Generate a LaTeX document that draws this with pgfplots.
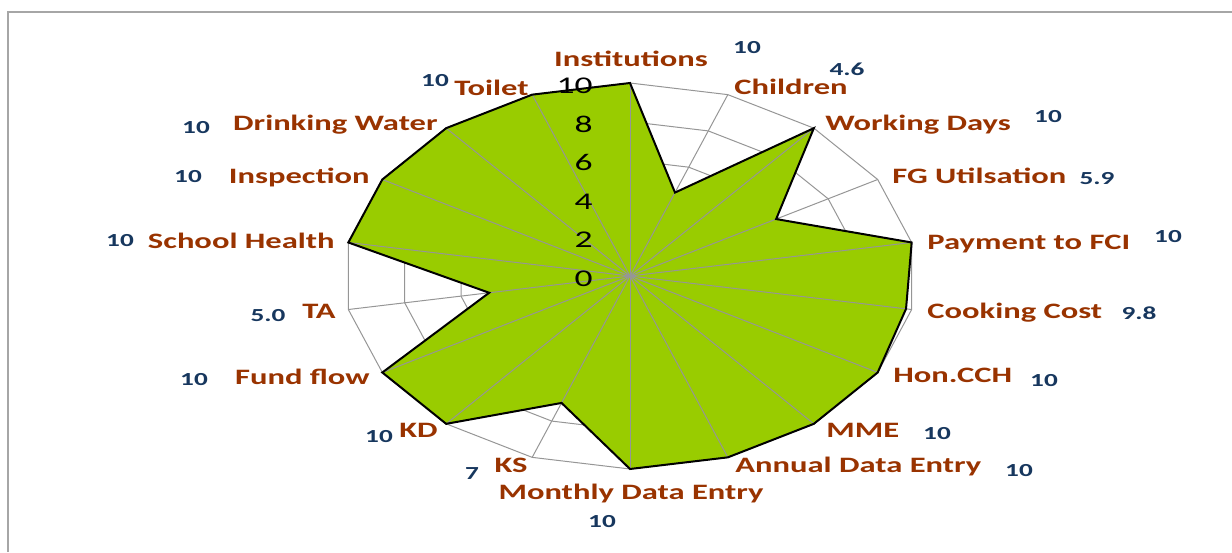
\documentclass[border=0pt]{standalone}
\usepackage{pgfplots}
\pgfplotsset{compat=1.18}
\usepackage{pgfplotstable}
\usepackage{fontspec}
\setmainfont{Carlito}
\newfontfamily\cw[FakeStretch=1.48]{Carlito}
\definecolor{catc}{HTML}{993300}
\definecolor{valc}{HTML}{17375E}
\definecolor{fillg}{HTML}{99CC00}
\definecolor{gridg}{HTML}{969696}
\definecolor{frameg}{HTML}{A6A6A6}

\pgfplotstableread{
angle value
90 10
70 4.6
50 10
30 5.9
10 10
-10 9.8
-30 10
-50 10
-70 10
-90 10
-110 7
-130 10
-150 10
-170 5.0
-190 10
-210 10
-230 10
-250 10
}\radar

\newcommand\cat[4]{\node[anchor=#3, text=catc, font=\cw\bfseries\fontsize{11}{13}\selectfont, inner sep=0pt] at (axis cs:{(#1-630)/28.6},{(276-#2)/19.3}) {#4};}
\newcommand\val[3]{\node[anchor=base, text=valc, font=\cw\bfseries\fontsize{9.2}{11}\selectfont, inner sep=0pt] at (axis cs:{(#1-630)/28.6},{(276-#2)/19.3}) {#3};}
\newcommand\tck[1]{\node[anchor=east, text=black, font=\cw\fontsize{12}{14}\selectfont, inner sep=0pt] at (axis cs:-1.29,{#1-0.13}) {#1};}

\begin{document}
\begin{tikzpicture}
\begin{axis}[name=ax, hide axis, scale only axis, width=616pt, height=276pt,
  xmin=-22.028, xmax=21.049, ymin=-14.301, ymax=14.301, clip=false]
% rings
\pgfplotsinvokeforeach{2,4,6,8,10}{
  \addplot[gridg, line width=0.5pt, data cs=polar, no markers, forget plot] coordinates {(90,#1) (70,#1) (50,#1) (30,#1) (10,#1) (-10,#1) (-30,#1) (-50,#1) (-70,#1) (-90,#1) (-110,#1) (-130,#1) (-150,#1) (-170,#1) (-190,#1) (-210,#1) (-230,#1) (-250,#1)} -- cycle;
}
% filled area
\addplot[fill=fillg, draw=none, data cs=polar, no markers, forget plot] table[x=angle, y=value] {\radar} -- cycle;
% spokes
\pgfplotsinvokeforeach{90,70,50,30,10,-10,-30,-50,-70,-90,-110,-130,-150,-170,-190,-210,-230,-250}{
  \addplot[gridg, line width=0.5pt, data cs=polar, no markers, forget plot] coordinates {(#1,0) (#1,10)};
}
% outline
\addplot[black, line width=1pt, line join=miter, data cs=polar, no markers, forget plot] table[x=angle, y=value] {\radar} -- cycle;

% frame
\draw[frameg, line width=1pt] (axis cs:-21.748,-14.301) -- (axis cs:-21.748,13.679) -- (axis cs:21.049,13.679);

% tick labels
\tck{0}\tck{2}\tck{4}\tck{6}\tck{8}\tck{10}

% category labels
\cat{631}{66}{base}{Institutions}
\cat{734}{94}{base west}{Children}
\cat{825}{130}{base west}{Working Days}
\cat{892}{183}{base west}{FG Utilsation}
\cat{927}{250}{base west}{Payment to FCI}
\cat{927}{319}{base west}{Cooking Cost}
\cat{893}{383}{base west}{Hon.CCH}
\cat{826}{438}{base west}{MME}
\cat{735}{473}{base west}{Annual Data Entry}
\cat{631}{500}{base}{Monthly Data Entry}
\cat{528}{473}{base east}{KS}
\cat{438}{438}{base east}{KD}
\cat{370}{385}{base east}{Fund flow}
\cat{336}{319}{base east}{TA}
\cat{335}{249}{base east}{School Health}
\cat{370}{183}{base east}{Inspection}
\cat{438}{130}{base east}{Drinking Water}
\cat{529}{95}{base east}{Toilet}

% value labels
\val{747}{53}{10}
\val{847}{75}{4.6}
\val{1048}{123}{10}
\val{1097}{184}{5.9}
\val{1168}{243}{10}
\val{1139}{320}{9.8}
\val{1044}{387}{10}
\val{937}{440}{10}
\val{1019}{477}{10}
\val{602}{528}{10}
\val{472}{480}{7}
\val{379}{443}{10}
\val{194}{386}{10}
\val{268}{322}{5.0}
\val{120}{247}{10}
\val{188}{182}{10}
\val{196}{133}{10}
\val{435}{86}{10}
\end{axis}
\pgfresetboundingbox
\path[use as bounding box] (ax.south west) rectangle (ax.north east);
\end{tikzpicture}
\end{document}
